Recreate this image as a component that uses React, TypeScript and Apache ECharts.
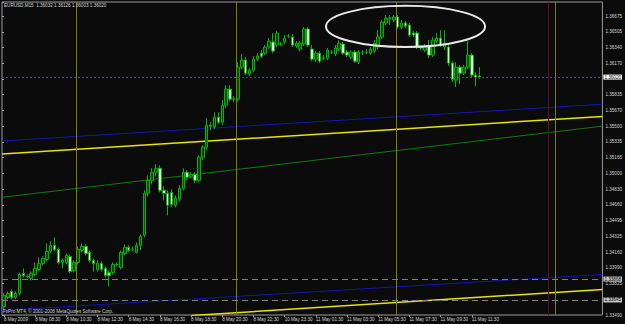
import React, { useEffect, useRef } from 'react';
import * as echarts from 'echarts';

// ---- data ----
const symbolName = 'EURUSD,M15';
const copyrightText = 'FxPro MT4, © 2001-2008 MetaQuotes Software Corp.';
const slotCount = 154; // visible bar slots (incl. empty shift area on the right)
const labelEvery = 8;
const timeLabels = [
  '8 May 2009', '8 May 08:30', '8 May 10:30', '8 May 12:30', '8 May 14:30', '8 May 16:30',
  '8 May 18:30', '8 May 20:30', '8 May 22:30', '10 May 23:30', '11 May 01:30', '11 May 03:30',
  '11 May 05:30', '11 May 07:30', '11 May 09:30', '11 May 11:30',
];
const yTickLabels = [
  '1.33490', '1.33655', '1.33825', '1.33990', '1.34160', '1.34325', '1.34495', '1.34660',
  '1.34830', '1.35000', '1.35165', '1.35335', '1.35500', '1.35670', '1.35835', '1.36000',
  '1.36170', '1.36340', '1.36505', '1.36675',
];
const yMin = 1.33485;
const yMax = 1.3682;
const yStep = 0.0016763;

// [open, close, low, high]
const ohlc: number[][] = [
  [1.33576, 1.33693, 1.33544, 1.33715], [1.33672, 1.33715, 1.33651, 1.33736], [1.33736, 1.33672, 1.33651, 1.33757],
  [1.33672, 1.33715, 1.33651, 1.33736], [1.33715, 1.33917, 1.33693, 1.33939], [1.33928, 1.33907, 1.33885, 1.33981],
  [1.33896, 1.33896, 1.33875, 1.33917], [1.33875, 1.33928, 1.33853, 1.33949], [1.33917, 1.33981, 1.33896, 1.34045],
  [1.33971, 1.34035, 1.33949, 1.34099], [1.34035, 1.34088, 1.34013, 1.34109], [1.34077, 1.34163, 1.34056, 1.34248],
  [1.34163, 1.34227, 1.34141, 1.34270], [1.34227, 1.34184, 1.34163, 1.34312], [1.34184, 1.34045, 1.34024, 1.34206],
  [1.34045, 1.34067, 1.33981, 1.34088], [1.34045, 1.34120, 1.34024, 1.34141], [1.34109, 1.33949, 1.33928, 1.34131],
  [1.33960, 1.34045, 1.33939, 1.34067], [1.34045, 1.34184, 1.34024, 1.34216], [1.34173, 1.34216, 1.34152, 1.34248],
  [1.34216, 1.34141, 1.34120, 1.34238], [1.34152, 1.34067, 1.34045, 1.34173], [1.34067, 1.34035, 1.33949, 1.34088],
  [1.33971, 1.34035, 1.33949, 1.34067], [1.34035, 1.33971, 1.33949, 1.34056], [1.33981, 1.33907, 1.33885, 1.34003],
  [1.33939, 1.33907, 1.33789, 1.33960], [1.33939, 1.34024, 1.33917, 1.34045], [1.34024, 1.34024, 1.34003, 1.34045],
  [1.33992, 1.34152, 1.33971, 1.34173], [1.34141, 1.34206, 1.34120, 1.34238], [1.34206, 1.34173, 1.34152, 1.34227],
  [1.34184, 1.34184, 1.34163, 1.34216], [1.34152, 1.34227, 1.34141, 1.34259], [1.34227, 1.34323, 1.34173, 1.34344],
  [1.34334, 1.34782, 1.34312, 1.34814], [1.34782, 1.34920, 1.34750, 1.34974], [1.34920, 1.35006, 1.34878, 1.35048],
  [1.35006, 1.35048, 1.34963, 1.35091], [1.35048, 1.34814, 1.34792, 1.35080], [1.34814, 1.34782, 1.34707, 1.34856],
  [1.34782, 1.34654, 1.34547, 1.34814], [1.34792, 1.34664, 1.34632, 1.34824], [1.34654, 1.34728, 1.34632, 1.34760],
  [1.34718, 1.34835, 1.34696, 1.34867], [1.34835, 1.35006, 1.34814, 1.35048], [1.35006, 1.34952, 1.34920, 1.35027],
  [1.34963, 1.34984, 1.34942, 1.35006], [1.34984, 1.34920, 1.34888, 1.35006], [1.34920, 1.35166, 1.34899, 1.35187],
  [1.35166, 1.35273, 1.35134, 1.35294], [1.35273, 1.35507, 1.35240, 1.35582], [1.35507, 1.35497, 1.35454, 1.35539],
  [1.35486, 1.35593, 1.35465, 1.35646], [1.35593, 1.35539, 1.35518, 1.35646], [1.35539, 1.35721, 1.35507, 1.35774],
  [1.35721, 1.35891, 1.35689, 1.35934], [1.35891, 1.35785, 1.35763, 1.35934], [1.35785, 1.35785, 1.35753, 1.35817],
  [1.35785, 1.36126, 1.35763, 1.36179], [1.36126, 1.36201, 1.36105, 1.36265], [1.36201, 1.36062, 1.36041, 1.36233],
  [1.36051, 1.36094, 1.36030, 1.36115], [1.36094, 1.36211, 1.36073, 1.36243], [1.36211, 1.36243, 1.36190, 1.36275],
  [1.36275, 1.36243, 1.36222, 1.36307], [1.36275, 1.36340, 1.36254, 1.36361], [1.36340, 1.36404, 1.36318, 1.36436],
  [1.36393, 1.36297, 1.36275, 1.36489], [1.36361, 1.36489, 1.36340, 1.36510], [1.36372, 1.36372, 1.36350, 1.36393],
  [1.36393, 1.36436, 1.36372, 1.36468], [1.36457, 1.36457, 1.36436, 1.36478], [1.36446, 1.36361, 1.36340, 1.36478],
  [1.36350, 1.36382, 1.36329, 1.36404], [1.36318, 1.36382, 1.36297, 1.36404], [1.36372, 1.36532, 1.36350, 1.36553],
  [1.36532, 1.36361, 1.36340, 1.36553], [1.36318, 1.36211, 1.36190, 1.36361], [1.36211, 1.36275, 1.36179, 1.36297],
  [1.36275, 1.36190, 1.36169, 1.36297], [1.36222, 1.36222, 1.36201, 1.36254], [1.36222, 1.36307, 1.36201, 1.36329],
  [1.36286, 1.36286, 1.36265, 1.36307], [1.36265, 1.36329, 1.36243, 1.36361], [1.36318, 1.36382, 1.36297, 1.36414],
  [1.36372, 1.36275, 1.36254, 1.36393], [1.36286, 1.36254, 1.36233, 1.36307], [1.36233, 1.36286, 1.36211, 1.36307],
  [1.36286, 1.36190, 1.36169, 1.36307], [1.36179, 1.36286, 1.36158, 1.36307], [1.36286, 1.36286, 1.36254, 1.36307],
  [1.36286, 1.36286, 1.36265, 1.36318], [1.36275, 1.36318, 1.36254, 1.36340], [1.36297, 1.36382, 1.36275, 1.36414],
  [1.36340, 1.36446, 1.36318, 1.36521], [1.36446, 1.36606, 1.36425, 1.36628], [1.36596, 1.36649, 1.36574, 1.36681],
  [1.36649, 1.36649, 1.36574, 1.36681], [1.36628, 1.36660, 1.36606, 1.36681], [1.36660, 1.36553, 1.36532, 1.36681],
  [1.36553, 1.36596, 1.36532, 1.36628], [1.36596, 1.36564, 1.36542, 1.36617], [1.36574, 1.36468, 1.36446, 1.36596],
  [1.36489, 1.36468, 1.36446, 1.36510], [1.36489, 1.36340, 1.36318, 1.36510], [1.36340, 1.36329, 1.36307, 1.36361],
  [1.36307, 1.36340, 1.36286, 1.36372], [1.36350, 1.36254, 1.36222, 1.36414], [1.36254, 1.36414, 1.36233, 1.36446],
  [1.36404, 1.36436, 1.36382, 1.36489], [1.36436, 1.36361, 1.36340, 1.36521], [1.36340, 1.36382, 1.36307, 1.36521],
  [1.36340, 1.36169, 1.36137, 1.36361], [1.36169, 1.35998, 1.35966, 1.36190], [1.35987, 1.36126, 1.35913, 1.36179],
  [1.36126, 1.36062, 1.35945, 1.36147], [1.36062, 1.36126, 1.36041, 1.36147], [1.36126, 1.36254, 1.36105, 1.36404],
  [1.36254, 1.36041, 1.36019, 1.36275], [1.36041, 1.36019, 1.35923, 1.36073], [1.36032, 1.36020, 1.36003, 1.36126],
];

// trend lines: endpoints as [bar position, price]
const trendBlueUpper = [[0, 1.35339], [154, 1.35731]];
const trendYellowUpper = [[0, 1.352], [154, 1.35601]];
const trendGreen = [[0, 1.34739], [154, 1.35497]];
const trendBlueLower = [[0, 1.33533], [154, 1.33917]];
const trendYellowLower = [[48.7, 1.3348], [154, 1.33757]];
const olivePeriodLines = [19, 60, 101, 142];
const maroonLines = [140.2];
const dashedLevels = [1.33868, 1.33645];
const ellipseMark = { centerBar: 103.5, centerPrice: 1.3656, radiusBars: 20.4, radiusPrice: 0.00219 };

const FONT = 'Liberation Sans, Arial, sans-serif';
const TXT = '#d2d2d2';

export default function App() {
  const ref = useRef<HTMLDivElement>(null);
  useEffect(() => {
    if (!ref.current) return;
    const chart = echarts.init(ref.current, null, { renderer: 'svg' });
    const slots = Array.from({ length: slotCount }, (_, i) => String(i));
    const showLbl = (i: number) => i % labelEvery === 0 && i / labelEvery < timeLabels.length;
    const last = ohlc[ohlc.length - 1];
    const current = last[1];
    const f5 = (v: number) => v.toFixed(5);
    const titleText = `${symbolName}  ${f5(last[0])} ${f5(last[3])} ${f5(last[2])} ${f5(last[1])}`;
    const boxedLevels = [current, ...dashedLevels];

    const lineSeries = (data: number[][], color: string, width: number, extra: any = {}) => ({
      type: 'line', xAxisIndex: 1, yAxisIndex: 0, data, symbol: 'none', silent: true, clip: true,
      lineStyle: { color, width }, z: 2, ...extra,
    });

    const option: any = {
      animation: false,
      backgroundColor: '#0b0b0b',
      grid: { left: 2, top: 2, width: 604, height: 313, show: true, borderColor: '#9c9c9c', borderWidth: 1 },
      xAxis: [
        {
          type: 'category', data: slots, boundaryGap: true,
          axisLine: { show: false },
          axisTick: { show: true, interval: showLbl, alignWithLabel: true, length: 2, lineStyle: { color: '#9c9c9c' } },
          axisLabel: {
            interval: showLbl, formatter: (v: string) => timeLabels[Number(v) / labelEvery] ?? '',
            align: 'left', fontSize: 4.6, color: TXT, margin: 2, fontFamily: FONT,
          },
          splitLine: { show: false },
        },
        { type: 'value', min: 0, max: slotCount, show: false },
      ],
      yAxis: {
        type: 'value', position: 'right', min: yMin, max: yMax, interval: yStep,
        axisLine: { show: false },
        axisTick: { show: true, length: 2, lineStyle: { color: '#9c9c9c' } },
        axisLabel: {
          fontSize: 4.6, color: TXT, margin: 3, fontFamily: FONT,
          formatter: (v: number) => {
            const k = Math.round((v - yMin) / yStep);
            if (k < 0 || k >= yTickLabels.length) return '';
            if (Math.abs(v - (yMin + k * yStep)) > yStep * 0.1) return '';
            // a boxed price label sits on top of this tick label
            if (boxedLevels.some((b) => Math.abs(b - v) < 0.0003)) return '';
            return yTickLabels[k];
          },
        },
        splitLine: { show: false },
      },
      series: [
        lineSeries(trendGreen, '#0f7a0f', 1),
        lineSeries(trendBlueUpper, '#1414b4', 1),
        lineSeries(trendYellowUpper, '#e6e600', 1.5),
        lineSeries(trendBlueLower, '#1414b4', 1, {
          markLine: {
            symbol: 'none', silent: true, animation: false, precision: 5,
            data: [
              ...olivePeriodLines.map((v) => ({ xAxis: v, lineStyle: { color: '#7c7c00', width: 1, type: 'solid' }, label: { show: false } })),
              ...maroonLines.map((v) => ({ xAxis: v, lineStyle: { color: '#5e0a30', width: 1, type: 'solid' }, label: { show: false } })),
            ],
          },
        }),
        lineSeries(trendYellowLower, '#e6e600', 1.5, {
          markLine: {
            symbol: 'none', silent: true, animation: false, precision: 5,
            data: [
              ...dashedLevels.map((v) => ({
                yAxis: v,
                lineStyle: { color: '#808080', width: 1, type: [6, 4] },
                label: { show: true, position: 'end', distance: 1, formatter: f5(v), fontSize: 4.6, fontFamily: FONT, color: '#000', backgroundColor: '#c4c4c4', padding: [0, 1] },
              })),
              {
                yAxis: current,
                lineStyle: { color: '#4a4a7a', width: 1, type: [2, 2] },
                label: { show: true, position: 'end', distance: 1, formatter: f5(current), fontSize: 4.6, fontFamily: FONT, color: '#000', backgroundColor: '#ffffff', padding: [0, 1] },
              },
            ],
          },
        }),
        {
          type: 'candlestick', xAxisIndex: 0, yAxisIndex: 0, data: ohlc, barWidth: 3, z: 3,
          itemStyle: { color: '#004a00', color0: '#eaffea', borderColor: '#00b400', borderColor0: '#00b400', borderWidth: 1 },
        },
      ],
      graphic: [
        { id: 'title', type: 'text', left: 4, top: 3, z: 20, style: { text: titleText, fill: TXT, fontSize: 4.6, fontFamily: FONT } },
        { id: 'copy', type: 'text', left: 3, top: 309, z: 20, style: { text: copyrightText, fill: TXT, fontSize: 4.6, fontFamily: FONT } },
      ],
    };
    chart.setOption(option);

    const finder = { xAxisIndex: 1, yAxisIndex: 0 };
    const c0 = chart.convertToPixel(finder, [ellipseMark.centerBar, ellipseMark.centerPrice]) as number[];
    const c1 = chart.convertToPixel(finder, [ellipseMark.centerBar + ellipseMark.radiusBars, ellipseMark.centerPrice + ellipseMark.radiusPrice]) as number[];
    chart.setOption({
      graphic: [
        {
          id: 'ellipse', type: 'ellipse', z: 15, silent: true,
          shape: { cx: c0[0], cy: c0[1], rx: Math.abs(c1[0] - c0[0]), ry: Math.abs(c0[1] - c1[1]) },
          style: { fill: 'none', stroke: '#e8e8e8', lineWidth: 2 },
        },
      ],
    });

    return () => chart.dispose();
  }, []);

  return (
    <div
      ref={ref}
      style={{ position: 'fixed', left: 0, top: 0, width: 625, height: 324, background: '#0b0b0b' }}
    />
  );
}
